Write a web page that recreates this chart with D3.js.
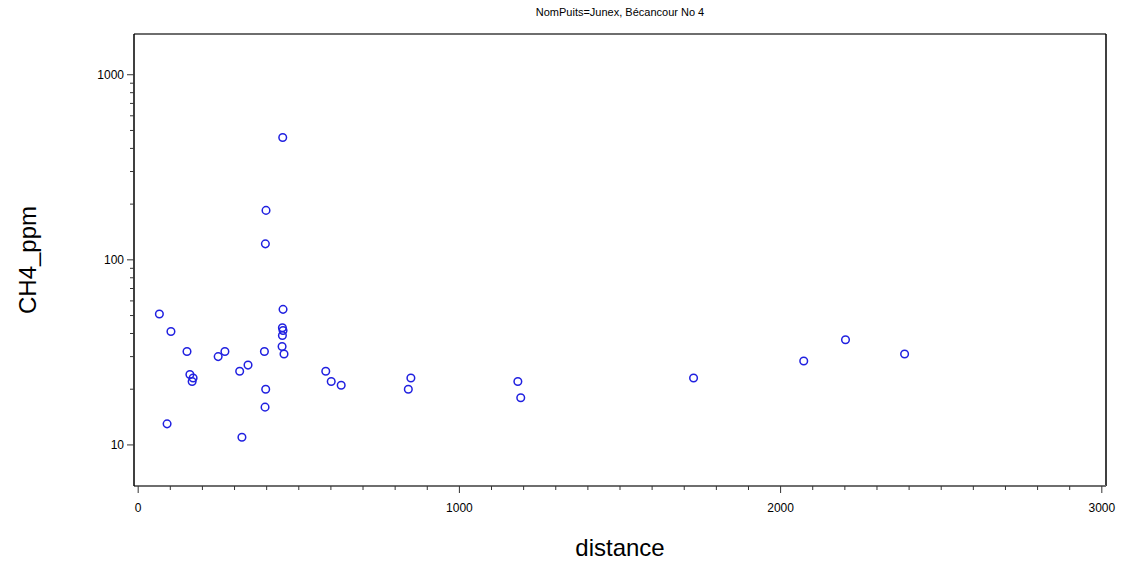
<!DOCTYPE html>
<html>
<head>
<meta charset="utf-8">
<script src="https://d3js.org/d3.v7.min.js"></script>
<style>
    body { margin: 0; background: #fff; }
    text { font-family: "Liberation Sans", Arial, sans-serif; fill: #000; }
</style>
</head>
<body>
<div id="chart"></div>
<script>
    // data
    var title = "NomPuits=Junex, Bécancour No 4";
    var distance = [450, 398, 396, 66, 102, 152, 161, 171, 168, 90, 249, 270, 316, 342, 323,
        393, 397, 395, 451, 449, 451, 449, 448, 454, 584, 601, 632, 849, 841,
        1182, 1191, 1729, 2072, 2202, 2386];
    var ch4 = [458, 185, 122, 51, 41, 32, 24, 23, 22, 13, 30, 32, 25, 27, 11,
        32, 20, 16, 54, 43, 41.5, 39, 34, 31, 25, 22, 21, 23, 20,
        22, 18, 23, 28.4, 37, 31];
    var xTicks = [0, 1000, 2000, 3000];
    var yTicks = [10, 100, 1000];

    var width = 1125, height = 567;
    var margin = { top: 34, right: 19, bottom: 81, left: 134 };
    var w = width - margin.left - margin.right,
        h = height - margin.top - margin.bottom;

    var x = d3.scaleLinear()
        .domain([-13, 3013])
        .range([0, w]);
    var y = d3.scaleLog()
        .domain([6.0, 1660])
        .range([h, 0]);

    var svg = d3.select("#chart").append("svg")
        .attr("width", width)
        .attr("height", height);

    svg.append("text")
        .attr("x", margin.left + w / 2)
        .attr("y", 16)
        .attr("text-anchor", "middle")
        .style("font-size", "11px")
        .text(title);

    var main = svg.append("g")
        .attr("transform", "translate(" + margin.left + "," + margin.top + ")");

    // frame
    main.append("line").attr("x1", 0).attr("x2", w).attr("y1", 0).attr("y2", 0)
        .attr("stroke", "#6e6e6e").attr("stroke-width", 2);
    main.append("line").attr("x1", w).attr("x2", w).attr("y1", 0).attr("y2", h)
        .attr("stroke", "#000").attr("stroke-width", 1.5);

    // x axis
    var minorX = d3.range(0, 3001, 100).filter(function (d) { return d % 1000 !== 0; });
    var gx = main.append("g").attr("transform", "translate(0," + h + ")");
    gx.append("line").attr("x1", 0).attr("x2", w)
        .attr("stroke", "#6e6e6e").attr("stroke-width", 2);
    gx.selectAll(".minor").data(minorX).enter().append("line")
        .attr("x1", function (d) { return x(d); })
        .attr("x2", function (d) { return x(d); })
        .attr("y1", 0).attr("y2", 4)
        .attr("stroke", "#333");
    gx.selectAll(".major").data(xTicks).enter().append("line")
        .attr("x1", function (d) { return x(d); })
        .attr("x2", function (d) { return x(d); })
        .attr("y1", 0).attr("y2", 7)
        .attr("stroke", "#333");
    gx.selectAll(".lab").data(xTicks).enter().append("text")
        .attr("x", function (d) { return x(d); })
        .attr("y", 26)
        .attr("text-anchor", "middle")
        .style("font-size", "12px")
        .text(function (d) { return d; });
    svg.append("text")
        .attr("x", margin.left + w / 2)
        .attr("y", 556)
        .attr("text-anchor", "middle")
        .style("font-size", "24px")
        .text("distance");

    // y axis
    var minorY = [];
    [10, 100].forEach(function (b) {
        for (var k = 2; k <= 9; k++) minorY.push(b * k);
    });
    var gy = main.append("g");
    gy.append("line").attr("y1", 0).attr("y2", h)
        .attr("stroke", "#000").attr("stroke-width", 1.5);
    gy.selectAll(".minor").data(minorY).enter().append("line")
        .attr("y1", function (d) { return y(d); })
        .attr("y2", function (d) { return y(d); })
        .attr("x1", 0).attr("x2", -4)
        .attr("stroke", "#333");
    gy.selectAll(".major").data(yTicks).enter().append("line")
        .attr("y1", function (d) { return y(d); })
        .attr("y2", function (d) { return y(d); })
        .attr("x1", 0).attr("x2", -7)
        .attr("stroke", "#333");
    gy.selectAll(".lab").data(yTicks).enter().append("text")
        .attr("x", -10)
        .attr("y", function (d) { return y(d); })
        .attr("dy", "0.35em")
        .attr("text-anchor", "end")
        .style("font-size", "12px")
        .text(function (d) { return d; });
    svg.append("text")
        .attr("transform", "translate(36," + (margin.top + h / 2) + ") rotate(-90)")
        .attr("text-anchor", "middle")
        .style("font-size", "24px")
        .text("CH4_ppm");

    // points
    var data = distance.map(function (d, i) { return { x: d, y: ch4[i] }; });
    main.append("g").selectAll("circle")
        .data(data)
        .enter().append("circle")
        .attr("cx", function (d) { return x(d.x); })
        .attr("cy", function (d) { return y(d.y); })
        .attr("r", 3.8)
        .attr("fill", "none")
        .attr("stroke", "#2020e0")
        .attr("stroke-width", 1.5);
</script>
</body>
</html>
